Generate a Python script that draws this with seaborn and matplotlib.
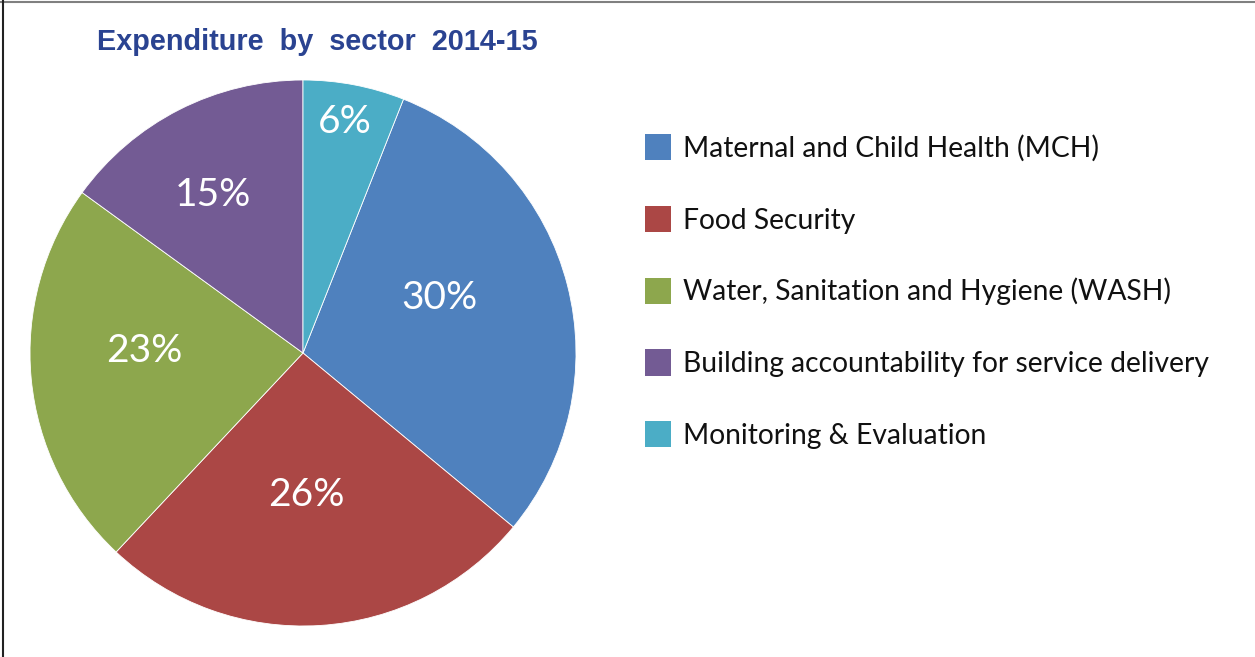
import numpy as np
import matplotlib
matplotlib.use("Agg")
import matplotlib.pyplot as plt
import seaborn as sns
from matplotlib.lines import Line2D

# ---- data ----
categories = [
    "Maternal and Child Health (MCH)",
    "Food Security",
    "Water, Sanitation and Hygiene (WASH)",
    "Building accountability for service delivery",
    "Monitoring & Evaluation",
]
values = [30, 26, 23, 15, 6]
colors = ["#4F81BE", "#AB4745", "#8DA74D", "#735B94", "#4BADC6"]
title = "Expenditure  by  sector  2014-15"

# label placement style (radius as fraction, angular shift in degrees)
label_radius = [0.54, 0.52, 0.58, 0.665, 0.86]
label_shift = [-7.6, 2.4, 6.1, -2.7, -0.5]

sns.set_theme(style="white")
plt.rcParams["font.family"] = ["Lato", "DejaVu Sans"]

W, H = 1255, 657
fig = plt.figure(figsize=(W / 100, H / 100), dpi=100)
fig.patch.set_facecolor("white")

# pie axes placed on the pie bounding box
cx, cy, R = 303, 353, 273
ax = fig.add_axes([(cx - R) / W, (H - cy - R) / H, 2 * R / W, 2 * R / H])

total = sum(values)
start = 90 - 360 * values[-1] / total
wedges, _ = ax.pie(
    values,
    colors=colors,
    startangle=start,
    counterclock=False,
    radius=1.0,
    wedgeprops=dict(edgecolor="white", linewidth=0.6),
)
ax.set_xlim(-1, 1)
ax.set_ylim(-1, 1)
ax.set_aspect("equal")
ax.axis("off")

for w, v, r, s in zip(wedges, values, label_radius, label_shift):
    mid = np.deg2rad((w.theta1 + w.theta2) / 2 - s)
    ax.text(r * np.cos(mid), r * np.sin(mid), f"{v}%", color="white",
            fontsize=28, ha="center", va="center")

# title
fig.text(97 / W, 1 - 42 / H, title, fontsize=20.8, fontweight="bold",
         color="#2A4391", family=["Liberation Sans", "DejaVu Sans"],
         ha="left", va="center")

# legend
handles = [plt.Rectangle((0, 0), 1, 1, facecolor=c, edgecolor="none") for c in colors]
leg = fig.legend(handles, categories, loc="upper left",
                 bbox_to_anchor=(645 / W, 1 - 134 / H),
                 frameon=False, fontsize=20.3, handlelength=0.92,
                 handleheight=1.06, handletextpad=0.42, labelspacing=1.56,
                 borderaxespad=0, borderpad=0)
for t in leg.get_texts():
    t.set_color("#111111")

# frame lines (top grey, left black)
fig.add_artist(Line2D([0, 1], [1 - 1.5 / H, 1 - 1.5 / H], color="#808080",
                      linewidth=1.5, transform=fig.transFigure))
fig.add_artist(Line2D([2.5 / W, 2.5 / W], [0, 1], color="#222222",
                      linewidth=1.5, transform=fig.transFigure))

fig.savefig("out.png", dpi=100, facecolor="white")
